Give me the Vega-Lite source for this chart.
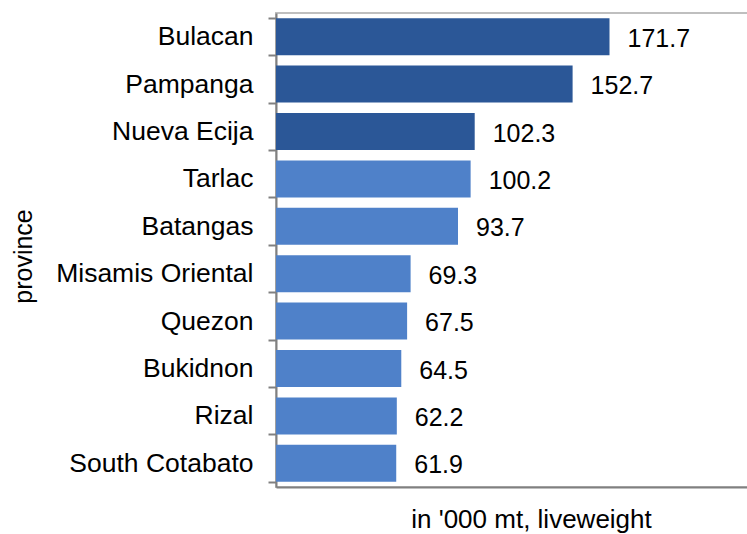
{
  "$schema": "https://vega.github.io/schema/vega-lite/v6.json",
  "autosize": {"type": "none"},
  "padding": {"left": 276, "top": 13, "right": 0, "bottom": 47},
  "width": 472,
  "height": 474,
  "background": "white",
  "config": {
    "font": "Liberation Sans",
    "view": {"stroke": "#bfbfbf", "strokeWidth": 2}
  },
  "data": {
    "values": [
      {"province": "Bulacan", "value": 171.7},
      {"province": "Pampanga", "value": 152.7},
      {"province": "Nueva Ecija", "value": 102.3},
      {"province": "Tarlac", "value": 100.2},
      {"province": "Batangas", "value": 93.7},
      {"province": "Misamis Oriental", "value": 69.3},
      {"province": "Quezon", "value": 67.5},
      {"province": "Bukidnon", "value": 64.5},
      {"province": "Rizal", "value": 62.2},
      {"province": "South Cotabato", "value": 61.9}
    ]
  },
  "encoding": {
    "y": {
      "field": "province",
      "type": "nominal",
      "sort": null,
      "scale": {"paddingInner": 0.22, "paddingOuter": 0.11},
      "axis": {
        "title": "province",
        "titleFont": "Liberation Sans",
        "titleFontSize": 25,
        "titleFontWeight": "normal",
        "titleColor": "black",
        "titleAngle": -90,
        "titleBaseline": "middle",
        "titleAlign": "center",
        "titleX": -253,
        "titleY": 243,
        "labelFontSize": 26.5,
        "labelColor": "black",
        "labelPadding": 15,
        "labelLimit": 400,
        "domainColor": "#808080",
        "domainWidth": 2,
        "tickColor": "#808080",
        "tickWidth": 2,
        "tickSize": 8,
        "tickBand": "extent",
        "grid": false
      }
    },
    "x": {
      "field": "value",
      "type": "quantitative",
      "scale": {"domain": [0, 243], "nice": false},
      "axis": {
        "title": "in '000 mt, liveweight",
        "titleFontSize": 26,
        "titleFontWeight": "normal",
        "titleColor": "black",
        "titleX": 255,
        "titleY": 19,
        "titleBaseline": "top",
        "labels": false,
        "ticks": false,
        "grid": false,
        "domainColor": "#808080",
        "domainWidth": 2
      }
    }
  },
  "layer": [
    {
      "mark": {"type": "bar"},
      "encoding": {
        "color": {
          "condition": {"test": "datum.value > 101", "value": "#2B5797"},
          "value": "#4F81C9"
        }
      }
    },
    {
      "mark": {"type": "text", "align": "left", "baseline": "middle", "dx": 18, "dy": 2, "fontSize": 25, "color": "black"},
      "encoding": {
        "text": {"field": "value", "type": "quantitative", "format": ".1f"}
      }
    }
  ]
}
